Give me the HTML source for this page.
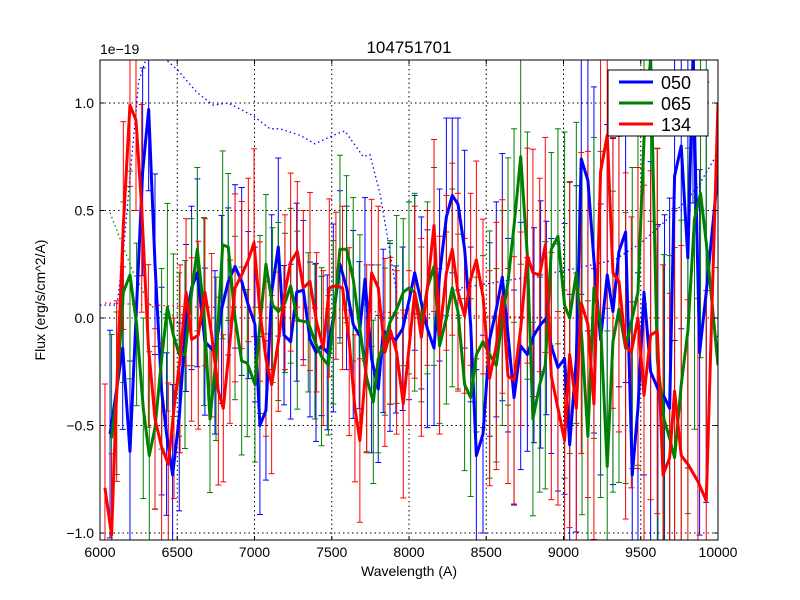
<!DOCTYPE html>
<html><head><meta charset="utf-8"><style>
html,body{margin:0;padding:0;background:#fff;overflow:hidden;width:800px;height:600px;font-family:"Liberation Sans","DejaVu Sans",sans-serif}
svg{display:block}
</style></head><body>
<svg id="chart" width="800" height="600" xmlns="http://www.w3.org/2000/svg">
<rect width="800" height="600" fill="#fff"/>
<text x="409" y="53" font-size="17" text-anchor="middle">104751701</text>
<text transform="translate(45,300) rotate(-90)" font-size="14" text-anchor="middle">Flux (erg/s/cm^2/A)</text>
<text x="409" y="576" font-size="14" text-anchor="middle">Wavelength (A)</text>
<text x="100" y="54" font-size="14">1e−19</text>
<g id="plot"></g>
</svg>
<script>
const xTicks=[6000,6500,7000,7500,8000,8500,9000,9500,10000];
const yTicks=[-1.0,-0.5,0.0,0.5,1.0];
const blueWave=[6065,6147,6194,6276,6315,6356,6399,6431,6470,6513,6557,6593,6630,6679,6744,6787,6830,6874,6917,6960,7003,7035,7074,7111,7154,7191,7234,7273,7316,7359,7398,7434,7471,7510,7553,7596,7639,7678,7715,7758,7801,7833,7877,7915,7959,8000,8037,8080,8119,8162,8198,8242,8280,8317,8360,8399,8436,8479,8522,8565,8604,8641,8680,8723,8766,8809,8852,8889,8921,8964,9007,9040,9083,9115,9158,9197,9240,9283,9320,9359,9402,9445,9482,9521,9564,9611,9654,9687,9719,9762,9805,9838,9881,9924,10000];
const blueFlux=[-0.54,-0.14,-0.62,0.68,0.97,0.25,-0.34,-0.54,-0.73,-0.46,0.0,0.14,0.21,-0.11,-0.16,0.04,0.17,0.24,0.17,0.06,-0.03,-0.50,-0.43,0.12,0.33,-0.08,-0.11,0.12,0.13,-0.10,-0.16,-0.13,-0.16,0.0,0.25,0.14,-0.03,-0.08,0.18,-0.19,-0.33,-0.06,-0.09,-0.10,-0.05,0.08,0.21,0.07,-0.05,-0.14,0.20,0.47,0.57,0.53,0.32,-0.03,-0.64,-0.54,-0.10,0.04,0.19,-0.08,-0.37,-0.13,-0.17,-0.08,-0.03,0.0,-0.13,-0.23,-0.19,-0.59,-0.19,0.74,0.64,0.27,-0.10,0.20,0.03,0.31,0.40,-0.73,-0.42,0.12,-0.25,-0.33,-0.37,-0.42,0.66,0.80,0.28,1.3,-0.16,0.12,0.68];
const greenWave=[6075,6108,6151,6194,6237,6280,6319,6356,6399,6436,6475,6513,6550,6593,6630,6673,6712,6751,6794,6830,6874,6917,6953,7003,7035,7074,7117,7154,7197,7234,7277,7348,7391,7434,7478,7510,7553,7596,7639,7682,7726,7769,7801,7844,7877,7920,7963,8000,8037,8080,8119,8162,8198,8242,8280,8317,8360,8399,8436,8479,8522,8565,8604,8641,8680,8723,8766,8802,8846,8882,8921,8964,9007,9040,9083,9120,9158,9197,9240,9283,9320,9359,9402,9445,9482,9521,9564,9607,9650,9687,9719,9762,9805,9848,9887,9924,10000];
const greenFlux=[-0.56,-0.35,0.12,0.20,-0.03,-0.42,-0.64,-0.51,-0.19,0.05,-0.08,-0.17,-0.17,0.12,0.32,0.03,-0.47,-0.19,0.34,0.33,0.0,-0.20,-0.21,-0.31,-0.03,0.25,0.06,0.03,0.07,0.15,-0.01,-0.02,-0.11,-0.18,-0.22,-0.02,0.32,0.32,0.18,-0.05,-0.28,-0.39,-0.19,-0.11,-0.02,0.04,0.12,0.14,0.12,-0.03,0.14,0.24,-0.13,0.0,0.14,0.03,-0.31,-0.37,-0.17,-0.11,-0.17,-0.22,0.0,0.17,0.43,0.75,0.29,-0.47,-0.31,-0.22,0.32,0.38,0.06,0.0,0.21,-0.11,-0.55,0.14,-0.03,-0.69,-0.11,0.04,-0.14,0.0,0.12,0.83,1.3,-0.19,-0.47,-0.56,-0.65,-0.31,-0.06,0.46,0.58,0.35,-0.22];
const redWave=[6032,6075,6108,6151,6194,6233,6270,6313,6356,6399,6442,6479,6518,6557,6593,6636,6679,6723,6766,6798,6841,6874,6917,6960,6997,7035,7074,7111,7154,7197,7234,7277,7316,7359,7402,7445,7484,7527,7570,7613,7650,7682,7726,7758,7801,7844,7881,7920,7963,8000,8037,8080,8119,8162,8198,8242,8280,8317,8360,8399,8436,8479,8522,8565,8604,8641,8680,8723,8766,8802,8846,8882,8921,8964,9007,9040,9083,9115,9158,9197,9240,9283,9320,9359,9402,9439,9482,9521,9564,9607,9644,9687,9719,9762,9805,9870,9924,10000];
const redFlux=[-0.79,-1.01,-0.34,0.43,0.99,0.92,0.51,-0.13,-0.47,-0.60,-0.68,-0.42,-0.19,0.12,-0.10,-0.08,0.12,-0.08,-0.34,-0.42,-0.11,0.14,0.20,0.27,0.35,0.03,-0.19,-0.31,-0.11,0.12,0.26,0.31,0.14,0.17,-0.02,-0.14,0.14,0.15,0.14,-0.11,-0.42,-0.57,-0.19,0.21,0.14,-0.16,-0.06,-0.16,-0.40,-0.14,0.12,-0.09,0.14,0.43,-0.08,0.21,0.32,0.12,0.01,0.18,0.27,0.10,-0.28,-0.13,0.10,-0.27,-0.29,-0.05,0.29,0.21,0.20,0.34,-0.27,-0.42,-0.57,-0.17,-0.42,0.07,-0.03,-0.40,0.68,0.85,0.21,0.17,-0.13,-0.16,0.0,-0.36,-0.08,-0.06,-0.73,-0.65,-0.34,-0.64,-0.68,-0.76,-0.85,1.0];
const errBinStart=[6000,6500,7000,7500,8000,8500,9000,9500];
const errHalf=[0.42,0.38,0.36,0.38,0.40,0.5,0.7,0.85];
const blueContWave=[6000,6110,6150,6200,6250,6300,6431,6507,6626,6733,6830,6992,7100,7165,7294,7391,7510,7585,7704,7747,7812,7855,7898,7920];
const blueContFlux=[0.06,0.06,0.3,0.7,1.1,1.3,1.2,1.15,1.05,0.99,1.0,0.94,0.88,0.88,0.85,0.81,0.85,0.87,0.75,0.76,0.58,0.40,0.21,0.12];
const blueCont2Wave=[8339,8856,9072,9331,9503,9719,9870,10000];
const blueCont2Flux=[0.14,0.2,0.23,0.27,0.35,0.49,0.61,0.77];
const greenContWave=[6065,6129,6216,6324,6431,6600];
const greenContFlux=[0.49,0.37,0.21,0.06,0.01,0.02];
const redContWave=[6032,6647,7294,8006,8425,9000,10000];
const redContFlux=[0.07,0.05,0.05,0.02,0.01,0.0,0.0];
const X0=100,X1=718,Y0=60,Y1=540,XMIN=6000,XMAX=10000,YMIN=-1.0326,YMAX=1.2;
const sx=v=>X0+(v-XMIN)/(XMAX-XMIN)*(X1-X0);
const sy=v=>Y1-(v-YMIN)/(YMAX-YMIN)*(Y1-Y0);
const cy=y=>Math.max(Y0-2,Math.min(Y1+2,y));
function errFor(w,i){let k=0;for(let j=0;j<errBinStart.length;j++)if(w>=errBinStart[j])k=j;return errHalf[k]*(i%3===0?1.15:(i%3===1?0.9:1.0));}
const NS="http://www.w3.org/2000/svg";
const plot=document.getElementById('plot');
function mk(tag,attrs,parent){const e=document.createElementNS(NS,tag);for(const k in attrs)e.setAttribute(k,attrs[k]);(parent||plot).appendChild(e);return e;}
const clip=mk('clipPath',{id:'clip'});mk('rect',{x:X0,y:Y0,width:X1-X0,height:Y1-Y0},clip);
const inner=mk('g',{'clip-path':'url(#clip)'});


xTicks.forEach(t=>{const l=mk('line',{x1:sx(t),x2:sx(t),y1:Y0,y2:Y1,stroke:'#000','stroke-dasharray':'1.5,3','stroke-width':1},inner);

});
yTicks.forEach(t=>{const l=mk('line',{x1:X0,x2:X1,y1:sy(t),y2:sy(t),stroke:'#000','stroke-dasharray':'1.5,3','stroke-width':1},inner);

});
function dotted(wx,fy,col,name){const p=mk('polyline',{points:wx.map((w,i)=>sx(w)+','+cy(sy(fy[i]))).join(' '),fill:'none',stroke:col,'stroke-width':1.3,'stroke-dasharray':'1.5,3'},inner);

}
const series=[[blueWave,blueFlux,'#0000ff','series-050'],[greenWave,greenFlux,'#008000','series-065'],[redWave,redFlux,'#ff0000','series-134']];
series.forEach(([wv,vals,col,name])=>{
 const g=mk('g',{},inner);
 
 
 vals.forEach((v,i)=>{const x=sx(wv[i]);const e=errFor(wv[i],i);
  const yl=sy(v-e),yh=sy(v+e);
  mk('line',{x1:x,x2:x,y1:cy(yl),y2:cy(yh),stroke:col,'stroke-width':1},g);
  if(yl<=Y1) mk('line',{x1:x-3,x2:x+3,y1:yl,y2:yl,stroke:col,'stroke-width':1},g);
  if(yh>=Y0) mk('line',{x1:x-3,x2:x+3,y1:yh,y2:yh,stroke:col,'stroke-width':1},g);});
});
dotted(blueContWave,blueContFlux,'#0000ff','continuum-050');
dotted(blueCont2Wave,blueCont2Flux,'#0000ff','continuum-050-red-end');
dotted(greenContWave,greenContFlux,'#008000','continuum-065');
dotted(redContWave,redContFlux,'#ff0000','continuum-134');
series.forEach(([wv,vals,col,name])=>{
 const p=mk('polyline',{points:vals.map((v,i)=>sx(wv[i])+','+cy(sy(v))).join(' '),fill:'none',stroke:col,'stroke-width':3,'stroke-linejoin':'round'},inner);
 
 
});
const frame=mk('rect',{x:X0,y:Y0,width:X1-X0,height:Y1-Y0,fill:'none',stroke:'#000','stroke-width':1});


xTicks.forEach(t=>{mk('line',{x1:sx(t),x2:sx(t),y1:Y1,y2:Y1-4,stroke:'#000'});mk('line',{x1:sx(t),x2:sx(t),y1:Y0,y2:Y0+4,stroke:'#000'});
 const tx=mk('text',{x:sx(t),y:Y1+17,'font-size':14,'text-anchor':'middle'});tx.textContent=t;
 
 });
yTicks.forEach(t=>{mk('line',{x1:X0,x2:X0+4,y1:sy(t),y2:sy(t),stroke:'#000'});mk('line',{x1:X1,x2:X1-4,y1:sy(t),y2:sy(t),stroke:'#000'});
 const tx=mk('text',{x:X0-6,y:sy(t)+5,'font-size':14,'text-anchor':'end'});tx.textContent=(t<0?'\u2212':'')+Math.abs(t).toFixed(1);
 
 });
const leg=mk('g',{});


mk('rect',{x:608,y:70,width:100,height:66,fill:'#fff',stroke:'#000'},leg);
[['050','#0000ff'],['065','#008000'],['134','#ff0000']].forEach(([lab,col],i)=>{
 const y=82+i*21;
 const ln=mk('line',{x1:619,x2:653,y1:y,y2:y,stroke:col,'stroke-width':3},leg);
 
 
 const tx=mk('text',{x:661,y:y+7,'font-size':18},leg);tx.textContent=lab;
 
 
});
</script>
</body></html>
